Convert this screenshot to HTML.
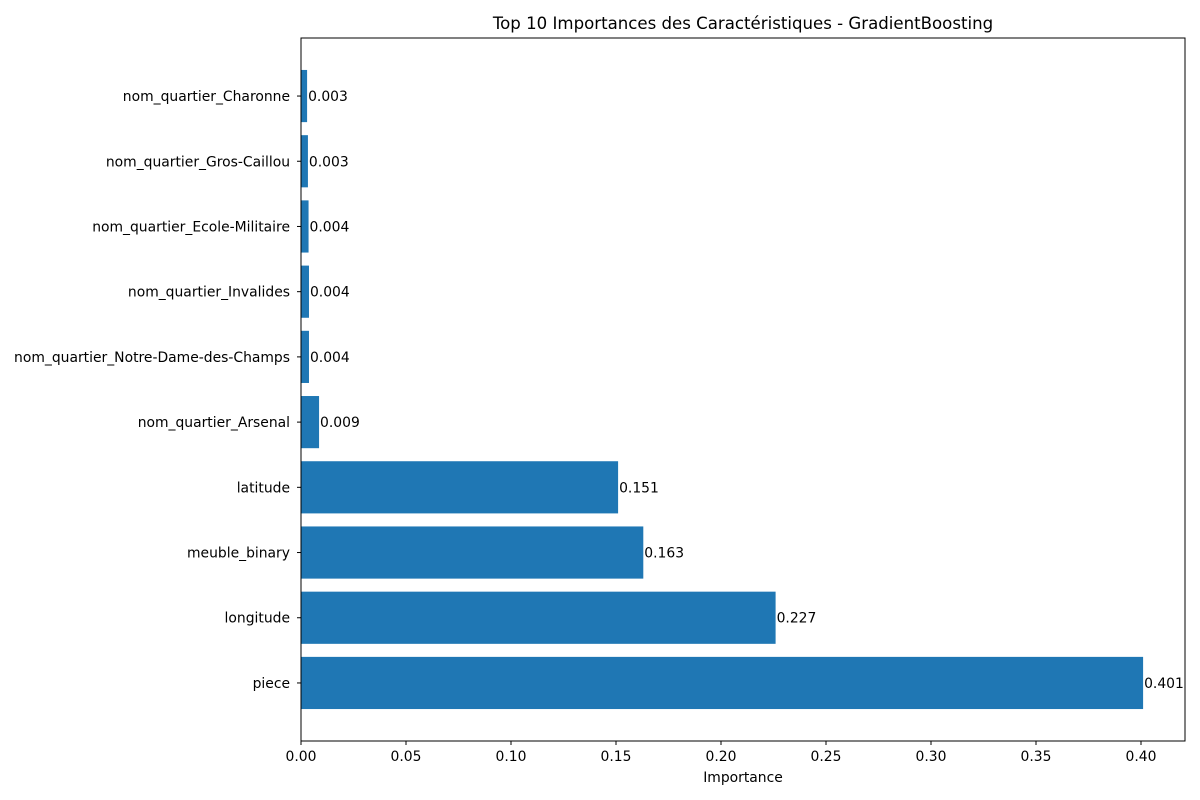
<!DOCTYPE html>
<html><head><meta charset="utf-8"><style>
body{margin:0;background:#fff;}
svg{display:block;font-family:"DejaVu Sans","Liberation Sans",sans-serif;}
</style></head><body>
<svg id="chart" width="1200" height="800"></svg>
<script>
const categories=["piece","longitude","meuble_binary","latitude","nom_quartier_Arsenal","nom_quartier_Notre-Dame-des-Champs","nom_quartier_Invalides","nom_quartier_Ecole-Militaire","nom_quartier_Gros-Caillou","nom_quartier_Charonne"];
const values=[0.401,0.226,0.163,0.151,0.0086,0.0038,0.0038,0.0036,0.0033,0.0029];
const labels=["0.401","0.227","0.163","0.151","0.009","0.004","0.004","0.004","0.003","0.003"];
const xTicks=[0,0.05,0.1,0.15,0.2,0.25,0.3,0.35,0.4];
const xTickLabels=["0.00","0.05","0.10","0.15","0.20","0.25","0.30","0.35","0.40"];
const NS="http://www.w3.org/2000/svg";
const svg=document.getElementById('chart');
const L=301,R=1185,T=38,B=741;
const xMax=(R-L)/2100;
const x=v=>L+v/xMax*(R-L);
const yMin=-0.89,yMax=9.89;
const y=i=>B-(i-yMin)/(yMax-yMin)*(B-T);
const bh=0.8*(B-T)/(yMax-yMin);
const FS=13.9;
function mk(tag,attrs,txt){const e=document.createElementNS(NS,tag);for(const k in attrs)e.setAttribute(k,attrs[k]);if(txt!==undefined)e.textContent=txt;svg.appendChild(e);return e;}
categories.forEach((c,i)=>{
  const r=mk('rect',{x:L,y:y(i)-bh/2,width:x(values[i])-L,height:bh,fill:'#1f77b4'});
  
  
  const t=mk('text',{x:x(values[i])+1,y:y(i)+5,'font-size':FS,fill:'#000'},labels[i]);
  
  
  const tk=mk('line',{x1:L-4,x2:L,y1:y(i),y2:y(i),stroke:'#000','stroke-width':1});
  
  
  const yl=mk('text',{x:L-11,y:y(i)+5,'font-size':FS,'text-anchor':'end'},c);
  
  
});
xTicks.forEach((v,i)=>{
  const tk=mk('line',{x1:x(v),x2:x(v),y1:B,y2:B+4,stroke:'#000','stroke-width':1});
  
  
  const t=mk('text',{x:x(v),y:B+20,'font-size':FS,'text-anchor':'middle'},xTickLabels[i]);
  
  
});
const fr=mk('rect',{x:L,y:T,width:R-L,height:B-T,fill:'none',stroke:'#000','stroke-width':1});


const xt=mk('text',{x:(L+R)/2,y:782,'font-size':FS,'text-anchor':'middle'},'Importance');


const ti=mk('text',{x:(L+R)/2,y:29,'font-size':16.6,'text-anchor':'middle'},'Top 10 Importances des Caractéristiques - GradientBoosting');


</script>
</body></html>
